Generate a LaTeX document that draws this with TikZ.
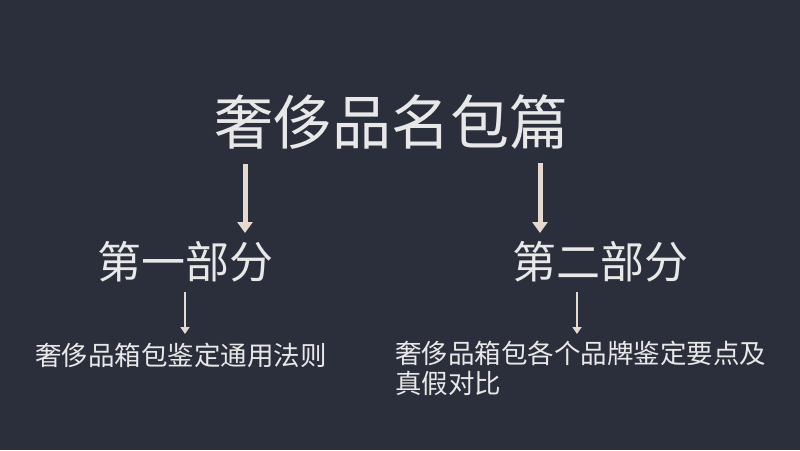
\documentclass[tikz,border=0pt]{standalone}
\usepackage{fontspec}
\newfontfamily\cjk{Noto Sans CJK SC}
\usetikzlibrary{arrows.meta}
\definecolor{bg}{HTML}{2B2F3B}
\definecolor{txt}{HTML}{E8E8E8}
\definecolor{arr}{HTML}{E6DAD0}
\tikzset{
  lbl/.style={text=txt,inner sep=0pt,font=\cjk},
  bigarrow/.style={draw=arr,line width=5pt,-{Triangle[length=11pt,width=15pt]}},
  smallarrow/.style={draw=arr,line width=2.5pt,-{Triangle[length=7pt,width=9pt]}}
}
\begin{document}
\begin{tikzpicture}[x=1pt,y=-1pt]
\fill[bg] (0,0) rectangle (800,450);
\useasboundingbox (0,0) rectangle (800,450);
\node[lbl,font=\cjk\fontsize{59}{59}\selectfont] (title) at (391,122) {奢侈品名包篇};
\node[lbl,font=\cjk\fontsize{44}{44}\selectfont] (p1) at (185,262) {第一部分};
\node[lbl,font=\cjk\fontsize{44}{44}\selectfont] (p2) at (600,262) {第二部分};
\node[lbl,font=\cjk\fontsize{26.5}{30}\selectfont,anchor=west] (d1) at (35,355) {奢侈品箱包鉴定通用法则};
\node[lbl,font=\cjk\fontsize{26.5}{30}\selectfont,anchor=north west,align=left] (d2) at (395,341) {奢侈品箱包各个品牌鉴定要点及\\真假对比};
\coordinate (a1s) at (245,164); \coordinate (a1e) at (245,233);
\coordinate (a2s) at (540,163); \coordinate (a2e) at (540,233);
\coordinate (b1s) at (185,292); \coordinate (b1e) at (185,334);
\coordinate (b2s) at (577,292); \coordinate (b2e) at (577,334);
\draw[bigarrow] (a1s) -- (a1e);
\draw[bigarrow] (a2s) -- (a2e);
\draw[smallarrow] (b1s) -- (b1e);
\draw[smallarrow] (b2s) -- (b2e);
\end{tikzpicture}
\end{document}
